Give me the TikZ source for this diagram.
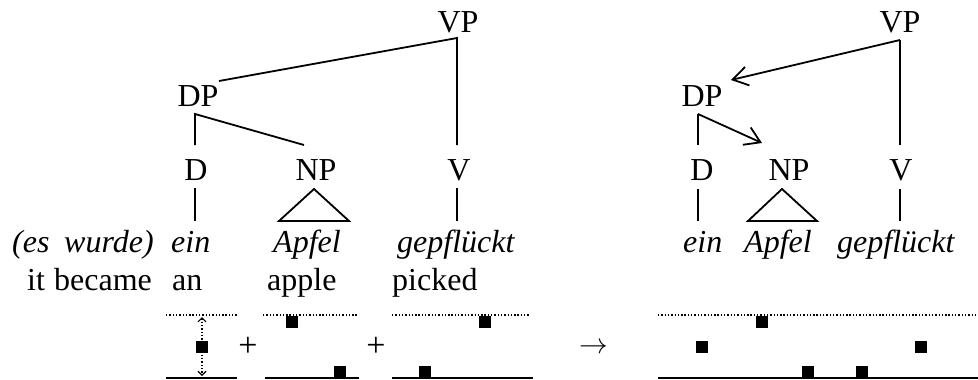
\documentclass[tikz,border=0pt]{standalone}
\usepackage{fontspec}
\setmainfont{Liberation Serif}
\usetikzlibrary{arrows.meta}
\tikzset{
  lbl/.style={inner sep=0pt, anchor=base, font=\fontsize{32}{34}\selectfont},
  wrd/.style={inner sep=0pt, anchor=base west, font=\fontsize{32}{34}\selectfont\itshape},
  gls/.style={inner sep=0pt, anchor=base west, font=\fontsize{32}{34}\selectfont},
  opr/.style={inner sep=0pt, anchor=center, font=\fontsize{34}{36}\selectfont},
  br/.style={line width=1.8pt},
  mv/.style={line width=1.8pt, -{Straight Barb[length=15pt,width=19pt,line width=1.8pt]}},
  dotl/.style={line width=1.4pt, dash pattern=on 1.4pt off 1.9pt},
  solidl/.style={line width=2.2pt},
  sq/.style={fill=black, minimum size=12pt, inner sep=0pt},
}
\begin{document}
\begin{tikzpicture}[x=1pt,y=-1pt]
\useasboundingbox (0,0) rectangle (978,380);
% ---------- left tree ----------
\node[lbl] (VP) at (458,32) {VP};
\node[lbl] (DP) at (198,106) {DP};
\node[lbl] (D) at (196,180) {D};
\node[lbl] (NP) at (316,180) {NP};
\node[lbl] (V) at (459,180) {V};
\coordinate (vpb) at (457,38);
\coordinate (dpt) at (219,81);
\coordinate (dpb) at (195,114);
\coordinate (dt) at (195,145);
\coordinate (npt) at (304,145);
\coordinate (vt) at (457,145);
\coordinate (db) at (195,188);
\coordinate (dw) at (195,221);
\coordinate (npa) at (314,189);
\coordinate (npl) at (279,221);
\coordinate (npr) at (349,221);
\coordinate (vb) at (457,188);
\coordinate (vw) at (457,221);
\draw[br] (dpt) -- (vpb) -- (vt);
\draw[br] (dt) -- (dpb) -- (npt);
\draw[br] (db) -- (dw);
\draw[br] (npa) -- (npl) -- (npr) -- cycle;
\draw[br] (vb) -- (vw);
% words
\node[wrd] (es) at (12,252) {(es};
\node[wrd] (wurde) at (64,252) {wurde)};
\node[wrd] (ein) at (171,252) {ein};
\node[wrd] (apfel) at (273,252) {Apfel};
\node[wrd] (gepf) at (397,252) {gepflückt};
\node[gls] (it) at (27,290) {it};
\node[gls] (became) at (54,290) {became};
\node[gls] (an) at (172,290) {an};
\node[gls] (apple) at (267,290) {apple};
\node[gls] (picked) at (392,290) {picked};
% ---------- right tree ----------
\node[lbl] (VP2) at (900,32) {VP};
\node[lbl] (DP2) at (702,106) {DP};
\node[lbl] (D2) at (702,180) {D};
\node[lbl] (NP2) at (789,180) {NP};
\node[lbl] (V2) at (901,180) {V};
\coordinate (vpb2) at (900,40);
\coordinate (dpt2) at (731,80);
\coordinate (dpb2) at (698,114);
\coordinate (dt2) at (698,145);
\coordinate (npt2) at (762,143);
\coordinate (vt2) at (900,145);
\coordinate (db2) at (698,189);
\coordinate (dw2) at (698,221);
\coordinate (npa2) at (782,189);
\coordinate (npl2) at (748,221);
\coordinate (npr2) at (817,221);
\coordinate (vb2) at (900,189);
\coordinate (vw2) at (900,221);
\draw[br] (vt2) -- (vpb2);
\draw[mv] (vpb2) -- (dpt2);
\draw[br] (dt2) -- (dpb2);
\draw[mv] (dpb2) -- (npt2);
\draw[br] (db2) -- (dw2);
\draw[br] (npa2) -- (npl2) -- (npr2) -- cycle;
\draw[br] (vb2) -- (vw2);
\node[wrd] (ein2) at (683,252) {ein};
\node[wrd] (apfel2) at (744,252) {Apfel};
\node[wrd] (gepf2) at (837,252) {gepflückt};
% ---------- bottom strips ----------
% group 1
\coordinate (a1) at (166,315); \coordinate (a2) at (237,315);
\coordinate (b1) at (166,378); \coordinate (b2) at (237,378);
\draw[dotl] (a1) -- (a2);
\draw[solidl] (b1) -- (b2);
\coordinate (ar1) at (202,317); \coordinate (ar2) at (202,376);
\draw[dotl, {Straight Barb[length=4pt,width=8pt,line width=1.1pt]}-{Straight Barb[length=4pt,width=8pt,line width=1.1pt]}] (ar1) -- (ar2);
\node[sq] (s1) at (202,347) {};
\node[opr] (p1) at (248,347) {+};
% group 2
\coordinate (c1) at (263,315); \coordinate (c2) at (358,315);
\coordinate (e1) at (265,378); \coordinate (e2) at (359,378);
\draw[dotl] (c1) -- (c2);
\draw[solidl] (e1) -- (e2);
\node[sq] (s2) at (292,322) {};
\node[sq] (s3) at (340,372) {};
\node[opr] (p2) at (376,347) {+};
% group 3
\coordinate (f1) at (392,315); \coordinate (f2) at (529,315);
\coordinate (g1) at (392,378); \coordinate (g2) at (533,378);
\draw[dotl] (f1) -- (f2);
\draw[solidl] (g1) -- (g2);
\node[sq] (s4) at (485,322) {};
\node[sq] (s5) at (425,372) {};
% arrow
\node[inner sep=0pt, font=\fontsize{24.88}{26}\selectfont, scale=1.15] (arr) at (594,348) {$\rightarrow$};
% group 4
\coordinate (h1) at (658,315); \coordinate (h2) at (978,315);
\coordinate (k1) at (658,378); \coordinate (k2) at (978,378);
\draw[dotl] (h1) -- (h2);
\draw[solidl] (k1) -- (k2);
\node[sq] (s6) at (762,322) {};
\node[sq] (s7) at (702,347) {};
\node[sq] (s8) at (921,347) {};
\node[sq] (s9) at (808,372) {};
\node[sq] (s10) at (862,372) {};
\end{tikzpicture}
\end{document}
